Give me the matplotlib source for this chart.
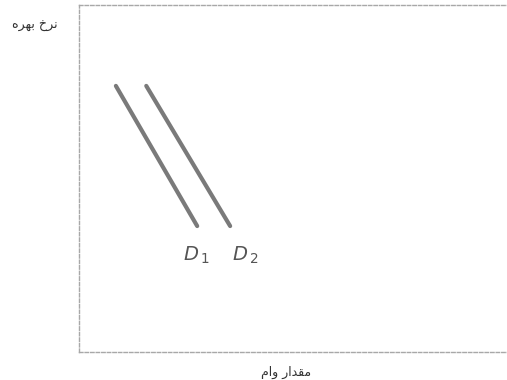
import matplotlib
matplotlib.use("Agg")
import matplotlib.pyplot as plt

# Demand curves (data units on a 0-10 plane)
d1_x = [0.86, 2.76]
d1_y = [7.67, 3.63]
d2_x = [1.57, 3.53]
d2_y = [7.67, 3.63]
curve_labels = ["$D_{\\,1}$", "$D_{\\,2}$"]
label_pos = [(2.43, 2.62), (3.57, 2.62)]

# Persian labels in visual (presentation-form) order
ylabel_txt = "\ufee9\ufeae\ufeec\ufe91 \ufea5\ufeae\ufee7"   # نرخ بهره
xlabel_txt = "\ufee1\ufe8d\ufeed \ufead\ufe8d\ufeaa\ufed8\ufee3"  # مقدار وام

fig = plt.figure(figsize=(5.07, 3.8), dpi=100)
ax = fig.add_axes([0.156, 0.0737, 0.844, 0.913])
ax.set_xlim(0, 10)
ax.set_ylim(0, 10)

for xs, ys in [(d1_x, d1_y), (d2_x, d2_y)]:
    ax.plot(xs, ys, color="#7a7a7a", lw=3.0, solid_capstyle="round")

for (tx, ty), lab in zip(label_pos, curve_labels):
    ax.text(tx, ty, lab, fontsize=14, color="#555555", ha="left", va="baseline")

ax.set_xticks([])
ax.set_yticks([])
for side in ["top", "left", "bottom"]:
    ax.spines[side].set_linestyle((0, (2.5, 1.5)))
    ax.spines[side].set_color("#a8a8a8")
    ax.spines[side].set_linewidth(1.0)
ax.spines["right"].set_visible(False)

fig.text(35 / 507, 1 - 25 / 380, ylabel_txt, fontsize=9, family=["DejaVu Sans"],
         ha="center", va="center", color="#333333")
fig.text(286 / 507, 1 - 372 / 380, xlabel_txt, fontsize=9, family=["DejaVu Sans"],
         ha="center", va="center", color="#333333")

fig.savefig("out.png", dpi=100)
